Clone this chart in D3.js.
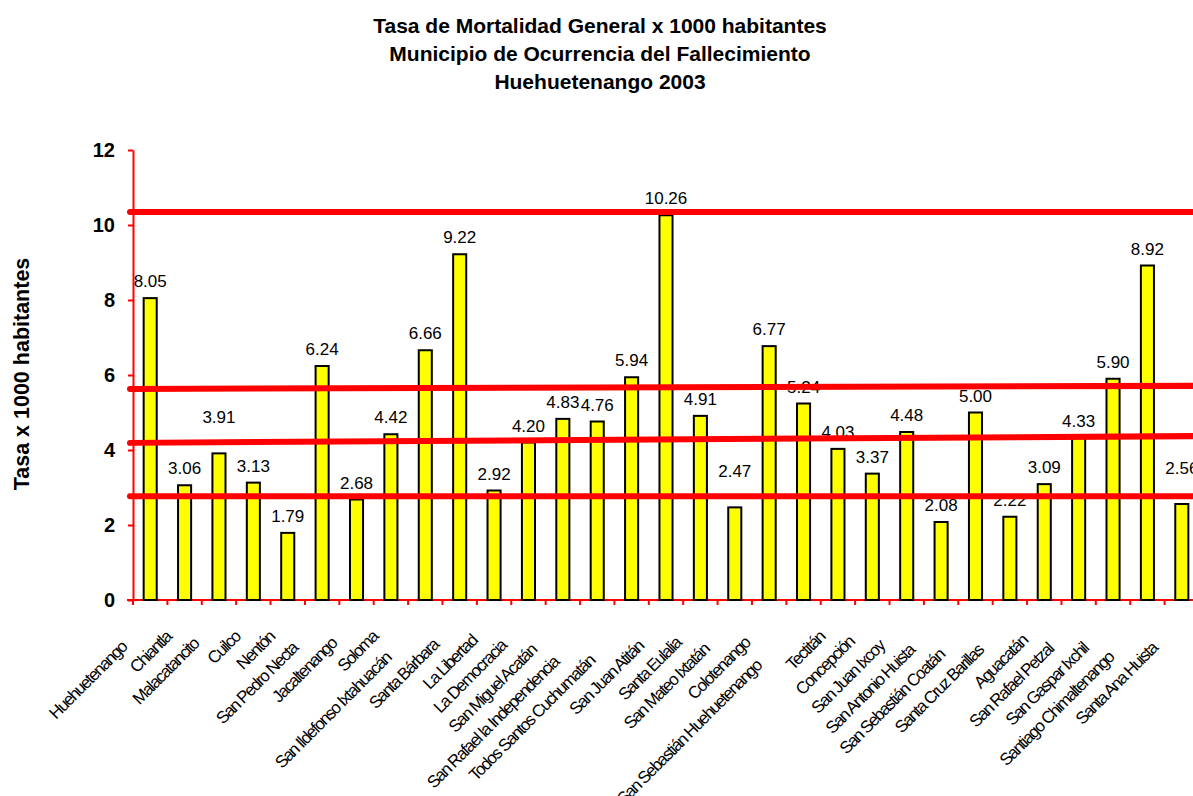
<!DOCTYPE html>
<html>
<head>
<meta charset="utf-8">
<script src="https://cdn.jsdelivr.net/npm/d3@7"></script>
<style>
  html, body { margin: 0; padding: 0; background: #ffffff; }
  svg { display: block; }
  text { font-family: Arial, "Liberation Sans", sans-serif; }
</style>
</head>
<body>
<svg id="chart" width="1193" height="796"></svg>
<script>
const titleLines = [
  "Tasa de Mortalidad General x 1000 habitantes",
  "Municipio de Ocurrencia del Fallecimiento",
  "Huehuetenango 2003"
];
const yAxisTitle = "Tasa x 1000 habitantes";

const categories = [
  "Huehuetenango", "Chiantla", "Malacatancito", "Cuilco", "Nentón",
  "San Pedro Necta", "Jacaltenango", "Soloma", "San Ildefonso Ixtahuacán", "Santa Bárbara",
  "La Libertad", "La Democracia", "San Miguel Acatán", "San Rafael la Independencia", "Todos Santos Cuchumatán",
  "San Juan Atitán", "Santa Eulalia", "San Mateo Ixtatán", "Colotenango", "San Sebastián Huehuetenango",
  "Tectitán", "Concepción", "San Juan Ixcoy", "San Antonio Huista", "San Sebastián Coatán",
  "Santa Cruz Barillas", "Aguacatán", "San Rafael Petzal", "San Gaspar Ixchil", "Santiago Chimaltenango",
  "Santa Ana Huista"
];
const values = [
  8.05, 3.06, 3.91, 3.13, 1.79,
  6.24, 2.68, 4.42, 6.66, 9.22,
  2.92, 4.20, 4.83, 4.76, 5.94,
  10.26, 4.91, 2.47, 6.77, 5.24,
  4.03, 3.37, 4.48, 2.08, 5.00,
  2.22, 3.09, 4.33, 5.90, 8.92,
  2.56
];
const yTicks = [0, 2, 4, 6, 8, 10, 12];

// hand-drawn red reference lines (value at left end, value at right end)
const refLineStart = [10.35, 5.63, 4.19, 2.77];
const refLineEnd   = [10.35, 5.71, 4.37, 2.77];

// data labels that sit higher above their bar in the original
const raisedLabels = ["Malacatancito", "San Mateo Ixtatán", "Santa Ana Huista"];

const svg = d3.select("#chart");
svg.append("rect").attr("width", 1193).attr("height", 796).attr("fill", "#ffffff");

const plotLeft = 133, plotRight = 1199, plotTop = 150, plotBottom = 600;

const x = d3.scaleBand()
  .domain(categories)
  .range([plotLeft, plotRight])
  .paddingInner(0.62)
  .paddingOuter(0.31);

const y = d3.scaleLinear().domain([0, 12]).range([plotBottom, plotTop]);

// Title
svg.append("g").selectAll("text")
  .data(titleLines)
  .join("text")
  .attr("x", 600)
  .attr("y", (d, i) => 33 + i * 28)
  .attr("text-anchor", "middle")
  .attr("font-size", 21)
  .attr("font-weight", "bold")
  .attr("fill", "#000")
  .text(d => d);

// Y axis title
svg.append("text")
  .attr("transform", "translate(29,374) rotate(-90)")
  .attr("text-anchor", "middle")
  .attr("font-size", 21.5)
  .attr("font-weight", "bold")
  .attr("fill", "#000")
  .text(yAxisTitle);

// Y axis
const yAxis = svg.append("g")
  .attr("transform", `translate(${plotLeft},0)`)
  .call(d3.axisLeft(y).tickValues(yTicks).tickSize(5).tickSizeOuter(0).tickPadding(13).tickFormat(d3.format("d")));
yAxis.select(".domain").attr("stroke", "#ff0000").attr("stroke-width", 2);
yAxis.selectAll(".tick line").attr("stroke", "#ff0000").attr("stroke-width", 2);
yAxis.selectAll(".tick text")
  .attr("font-size", 20).attr("font-weight", "bold").attr("fill", "#000")
  .attr("font-family", "Arial, 'Liberation Sans', sans-serif");

// X axis line + tick marks at category boundaries
const gap = x.step() - x.bandwidth();
const boundaries = categories.map(c => x(c) - gap / 2);
boundaries.push(x(categories[categories.length - 1]) + x.bandwidth() + gap / 2);
const xAxisG = svg.append("g");
xAxisG.append("line")
  .attr("x1", plotLeft - 6).attr("x2", plotRight + 10)
  .attr("y1", y(0)).attr("y2", y(0))
  .attr("stroke", "#ff0000").attr("stroke-width", 2);
xAxisG.selectAll("line.tick")
  .data(boundaries)
  .join("line")
  .attr("class", "tick")
  .attr("x1", d => d).attr("x2", d => d)
  .attr("y1", y(0)).attr("y2", y(0) + 5)
  .attr("stroke", "#ff0000").attr("stroke-width", 2);

// Bars
svg.append("g").selectAll("rect")
  .data(values)
  .join("rect")
  .attr("x", (d, i) => x(categories[i]))
  .attr("y", d => y(d))
  .attr("width", x.bandwidth())
  .attr("height", d => y(0) - y(d))
  .attr("fill", "#ffff00")
  .attr("stroke", "#000")
  .attr("stroke-width", 2);

// Value labels
svg.append("g").selectAll("text")
  .data(values)
  .join("text")
  .attr("x", (d, i) => x(categories[i]) + x.bandwidth() / 2)
  .attr("y", (d, i) => y(d) - 11 - (raisedLabels.includes(categories[i]) ? 19 : 0))
  .attr("text-anchor", "middle")
  .attr("font-size", 17)
  .attr("fill", "#000")
  .text(d => d.toFixed(2));

// Category labels (rotated 45°)
const catG = svg.append("g");
categories.forEach((c, i) => {
  const cx = x(c) + x.bandwidth() / 2;
  const t = catG.append("text")
    .attr("text-anchor", "end")
    .attr("font-size", 17)
    .attr("letter-spacing", "-1.5px")
    .attr("fill", "#000")
    .text(c);
  const L = t.node().getComputedTextLength();
  const dx = L * Math.SQRT1_2;
  const s = Math.max(0, 0.28 * (dx - 35));
  const px = cx - 12 - s;
  const py = 638 + s;
  t.attr("transform", `translate(${px},${py}) rotate(-45)`);
});

// Red reference lines (drawn on top)
svg.append("g").selectAll("line")
  .data(refLineStart)
  .join("line")
  .attr("x1", plotLeft - 3)
  .attr("x2", plotRight + 10)
  .attr("y1", d => y(d))
  .attr("y2", (d, i) => y(d) + (y(refLineEnd[i]) - y(d)) * (plotRight + 10 - (plotLeft - 3)) / (1193 - (plotLeft - 3)))
  .attr("stroke", "#ff0000")
  .attr("stroke-width", 6)
  .attr("stroke-linecap", "round");
</script>
</body>
</html>
